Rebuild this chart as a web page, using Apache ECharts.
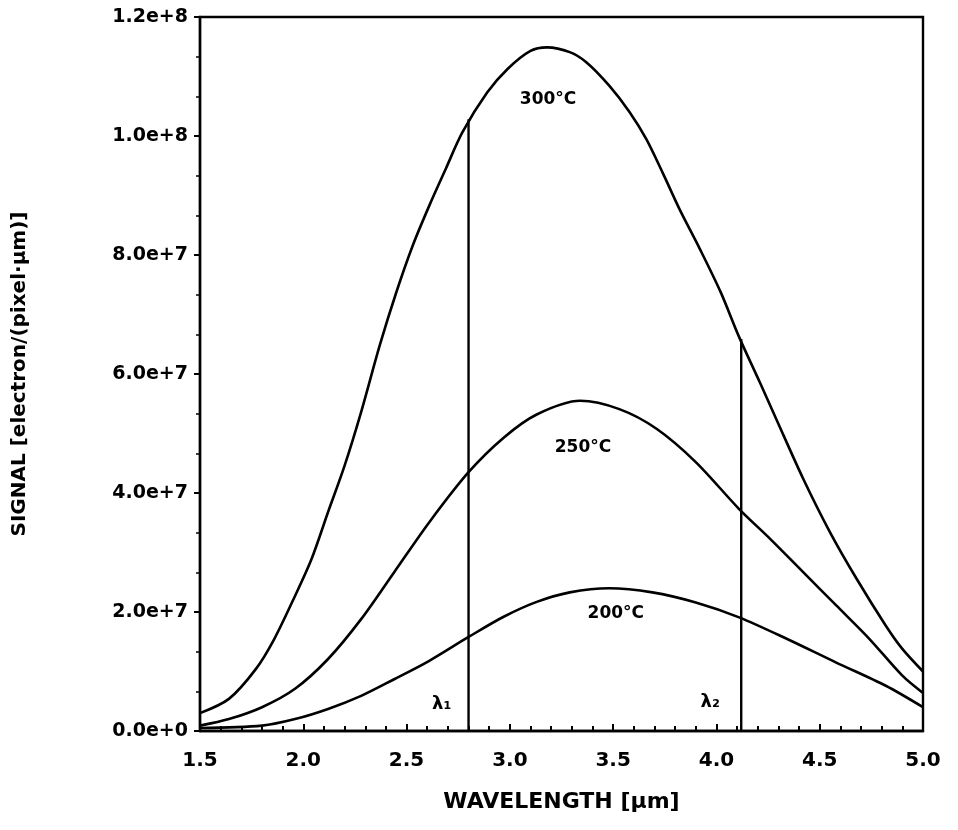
<!DOCTYPE html>
<html>
<head>
<meta charset="utf-8">
<script src="https://cdn.jsdelivr.net/npm/echarts@6/dist/echarts.min.js"></script>
<style>
  html, body { margin: 0; padding: 0; background: #fff; }
  #chart { width: 958px; height: 830px; }
</style>
</head>
<body>
<div id="chart"></div>
<script>
// Spectral signal curves for three source temperatures
const wl300 = [1.5, 1.64, 1.77, 1.86, 1.96, 2.04, 2.12, 2.20, 2.28, 2.37, 2.45, 2.53, 2.61, 2.69, 2.77, 2.89, 2.99, 3.10, 3.18, 3.29, 3.37, 3.48, 3.58, 3.66, 3.74, 3.82, 3.92, 4.02, 4.11, 4.21, 4.29, 4.42, 4.55, 4.68, 4.82, 4.90, 5.0];
const sig300 = [3.0e6, 5.4e6, 1.04e7, 1.55e7, 2.27e7, 2.89e7, 3.68e7, 4.46e7, 5.36e7, 6.48e7, 7.37e7, 8.16e7, 8.83e7, 9.45e7, 1.006e8, 1.073e8, 1.113e8, 1.143e8, 1.149e8, 1.141e8, 1.124e8, 1.085e8, 1.040e8, 9.95e7, 9.38e7, 8.78e7, 8.10e7, 7.38e7, 6.62e7, 5.86e7, 5.24e7, 4.24e7, 3.34e7, 2.55e7, 1.77e7, 1.38e7, 1.0e7];

const wl250 = [1.5, 1.64, 1.80, 1.96, 2.12, 2.28, 2.44, 2.61, 2.80, 2.97, 3.13, 3.34, 3.53, 3.71, 3.90, 4.11, 4.26, 4.42, 4.58, 4.74, 4.90, 5.0];
const sig250 = [9e5, 2.0e6, 4.0e6, 7.1e6, 1.21e7, 1.88e7, 2.67e7, 3.51e7, 4.35e7, 4.93e7, 5.32e7, 5.55e7, 5.41e7, 5.08e7, 4.52e7, 3.73e7, 3.23e7, 2.67e7, 2.11e7, 1.55e7, 9.3e6, 6.4e6];

const wl200 = [1.5, 1.80, 1.96, 2.12, 2.28, 2.44, 2.61, 2.80, 2.97, 3.13, 3.29, 3.48, 3.69, 3.90, 4.11, 4.34, 4.58, 4.82, 5.0];
const sig200 = [5e5, 9e5, 2.0e6, 3.7e6, 5.9e6, 8.7e6, 1.18e7, 1.58e7, 1.92e7, 2.17e7, 2.33e7, 2.40e7, 2.33e7, 2.16e7, 1.91e7, 1.55e7, 1.15e7, 7.6e6, 4.0e6];

// Band limits λ1 and λ2, each drawn up to the 300 °C curve
const bandWl = [2.8, 4.12];
const bandTop = [1.028e8, 6.59e7];
const bandNames = ['λ₁', 'λ₂'];
const bandLabelWl = [2.67, 3.97];
const bandLabelSig = [4.5e6, 4.9e6];

// Temperature labels placed beside each curve
const tempNames = ['300°C', '250°C', '200°C'];
const tempLabelWl = [3.185, 3.354, 3.513];
const tempLabelSig = [1.062e8, 4.77e7, 1.97e7];

const yTicks = ['0.0e+0', '2.0e+7', '4.0e+7', '6.0e+7', '8.0e+7', '1.0e+8', '1.2e+8'];

const zip = (xs, ys) => xs.map((x, i) => [x, ys[i]]);
const FONT = 'DejaVu Sans';

const curve = (name, xs, ys) => ({
  name, type: 'line', data: zip(xs, ys), smooth: 0.3, showSymbol: false,
  lineStyle: { color: '#000', width: 2.6 }, itemStyle: { color: '#000' }, z: 3
});

const bandSeries = bandWl.map((w, i) => ({
  name: bandNames[i], type: 'line', data: [[w, 0], [w, bandTop[i]]],
  showSymbol: false, lineStyle: { color: '#000', width: 2.4 }, z: 2
}));

const textSeries = (name, names, xs, ys, size) => ({
  name, type: 'scatter', symbolSize: 0, silent: true,
  itemStyle: { opacity: 1, color: '#000' },
  data: names.map((t, i) => ({ value: [xs[i], ys[i]], name: t })),
  label: { show: true, position: 'inside', formatter: p => p.name, fontFamily: FONT, fontWeight: 'bold', fontSize: size, color: '#000', opacity: 1 }
});

const chart = echarts.init(document.getElementById('chart'), null, { renderer: 'canvas' });
chart.setOption({
  backgroundColor: '#fff',
  animation: false,
  grid: { left: 200, right: 35, top: 17, bottom: 99, show: true, borderColor: '#000', borderWidth: 2.4, backgroundColor: 'transparent' },
  xAxis: {
    type: 'value', min: 1.5, max: 5.0, interval: 0.5,
    name: 'WAVELENGTH [µm]', nameLocation: 'middle', nameGap: 60,
    nameTextStyle: { fontFamily: FONT, fontWeight: 'bold', fontSize: 22, color: '#000' },
    axisLine: { show: true, lineStyle: { color: '#000', width: 2.4 } },
    axisTick: { show: true, inside: true, length: 7, lineStyle: { color: '#000', width: 2 } },
    minorTick: { show: true, splitNumber: 5, length: 5, lineStyle: { color: '#000', width: 2 } },
    splitLine: { show: false },
    axisLabel: { margin: 20, fontFamily: FONT, fontWeight: 'bold', fontSize: 20, color: '#000', formatter: v => v.toFixed(1) }
  },
  yAxis: {
    type: 'value', min: 0, max: 1.2e8, interval: 2e7,
    name: 'SIGNAL [electron/(pixel·µm)]', nameLocation: 'middle', nameGap: 170, nameRotate: 90,
    nameTextStyle: { fontFamily: FONT, fontWeight: 'bold', fontSize: 20, color: '#000' },
    axisLine: { show: true, lineStyle: { color: '#000', width: 2.4 } },
    axisTick: { show: true, inside: false, length: 6, lineStyle: { color: '#000', width: 2 } },
    minorTick: { show: true, splitNumber: 3, length: 4, lineStyle: { color: '#000', width: 1.5 } },
    splitLine: { show: false },
    axisLabel: { margin: 12, fontFamily: FONT, fontWeight: 'bold', fontSize: 19, color: '#000',
      formatter: v => yTicks[Math.round(v / 2e7)] }
  },
  series: [
    curve('300°C', wl300, sig300),
    curve('250°C', wl250, sig250),
    curve('200°C', wl200, sig200),
    ...bandSeries,
    textSeries('temperature labels', tempNames, tempLabelWl, tempLabelSig, 17),
    textSeries('band labels', bandNames, bandLabelWl, bandLabelSig, 18)
  ]
});
</script>
</body>
</html>
